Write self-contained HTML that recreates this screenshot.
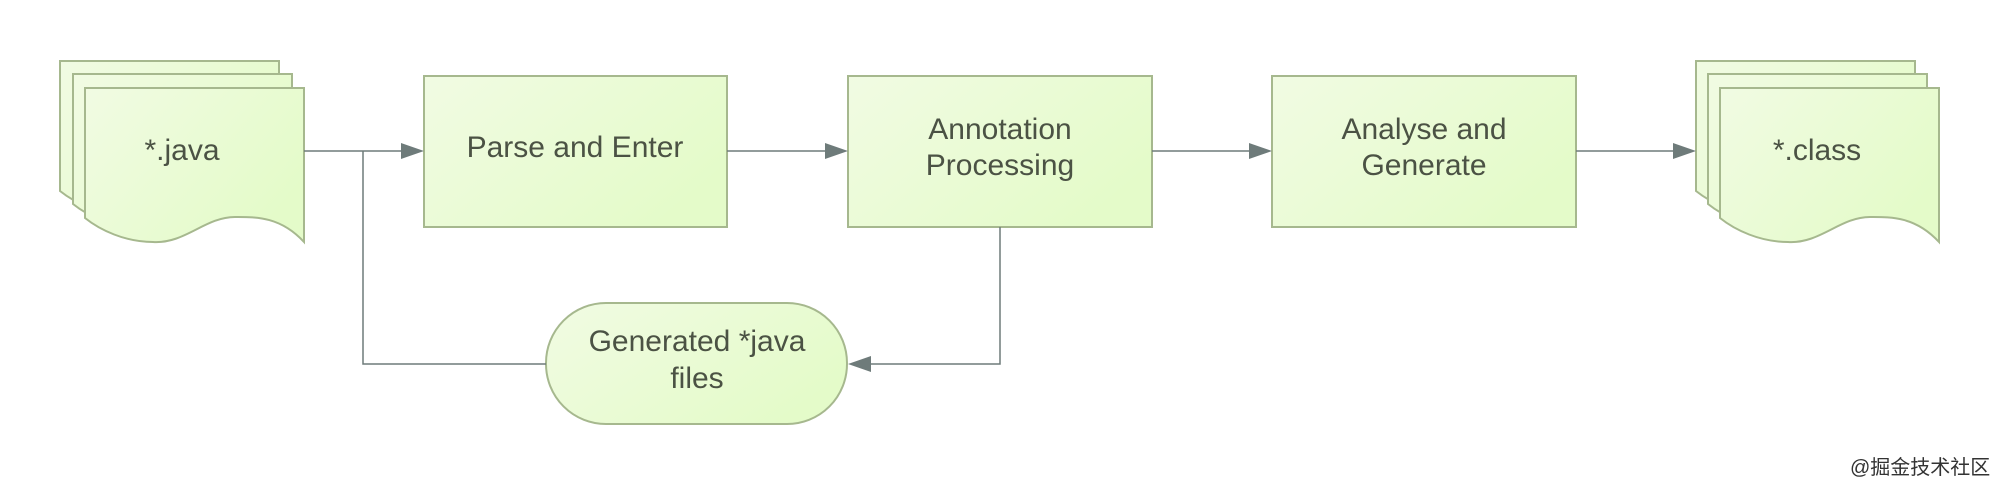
<!DOCTYPE html>
<html><head><meta charset="utf-8"><style>
html,body{margin:0;padding:0;background:#fff;}
svg{display:block;}
text{font-family:"Liberation Sans",Arial,sans-serif;fill:#4b5244;font-size:30px;}
</style></head><body>
<svg width="2000" height="484" viewBox="0 0 2000 484" xmlns="http://www.w3.org/2000/svg">
<defs>
<linearGradient id="g" x1="0" y1="0" x2="1" y2="0.6">
<stop offset="0" stop-color="#f1fbe3"/><stop offset="1" stop-color="#e4fbc9"/>
</linearGradient>
<g id="page">
<path d="M0,0 H219 V154 C195,128 170,129 150,129 C120,129 100,156 68,154 C40,154 15,142 0,130 Z" fill="url(#g)" stroke="#a6b88e" stroke-width="2"/>
</g>
</defs>
<use href="#page" x="60" y="61"/>
<use href="#page" x="73" y="74"/>
<use href="#page" x="85" y="88"/>
<text x="182" y="160" text-anchor="middle">*.java</text>
<use href="#page" x="1696" y="61"/>
<use href="#page" x="1708" y="74"/>
<use href="#page" x="1720" y="88"/>
<text x="1817" y="160" text-anchor="middle">*.class</text>
<rect x="424" y="76" width="303" height="151" fill="url(#g)" stroke="#a6b88e" stroke-width="2"/>
<text x="575" y="157" text-anchor="middle">Parse and Enter</text>
<rect x="848" y="76" width="304" height="151" fill="url(#g)" stroke="#a6b88e" stroke-width="2"/>
<text x="1000" y="139" text-anchor="middle">Annotation</text>
<text x="1000" y="175" text-anchor="middle">Processing</text>
<rect x="1272" y="76" width="304" height="151" fill="url(#g)" stroke="#a6b88e" stroke-width="2"/>
<text x="1424" y="139" text-anchor="middle">Analyse and</text>
<text x="1424" y="175" text-anchor="middle">Generate</text>
<rect x="546" y="303" width="301" height="121" rx="60" ry="60" fill="url(#g)" stroke="#a6b88e" stroke-width="2"/>
<text x="697" y="351" text-anchor="middle">Generated *java</text>
<text x="697" y="388" text-anchor="middle">files</text>
<g stroke="#6e7b7a" stroke-width="1.5" fill="none">
<path d="M304,151 H402"/>
<path d="M363,151 V364 H546"/>
<path d="M727,151 H826"/>
<path d="M1152,151 H1250"/>
<path d="M1576,151 H1674"/>
<path d="M1000,227 V364 H870"/>
</g>
<g fill="#6e7b7a">
<polygon points="401,143 424,151 401,159"/>
<polygon points="825,143 848,151 825,159"/>
<polygon points="1249,143 1272,151 1249,159"/>
<polygon points="1673,143 1696,151 1673,159"/>
<polygon points="871,356 848,364 871,372"/>
</g>
<text x="1850" y="474" style="font-family:'Liberation Sans','Noto Sans CJK SC',sans-serif;font-size:20px;fill:#333">@掘金技术社区</text>
</svg>
</body></html>
